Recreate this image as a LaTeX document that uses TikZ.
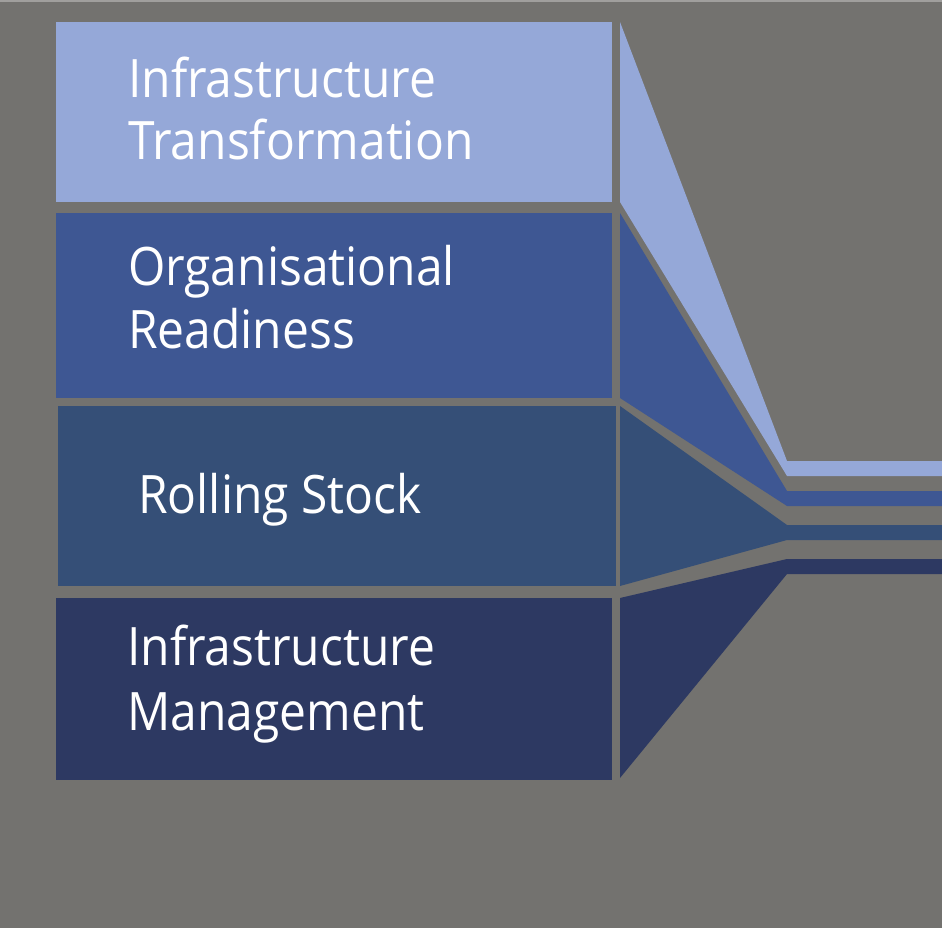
\documentclass[tikz,border=0pt]{standalone}
\usepackage{fontspec}
\setmainfont[FakeStretch=0.905]{Open Sans}
\definecolor{bg}{HTML}{73726F}
\definecolor{topline}{HTML}{A09F9D}
\definecolor{cA}{HTML}{95A8D8}
\definecolor{cB}{HTML}{3E5793}
\definecolor{cC}{HTML}{354F77}
\definecolor{cD}{HTML}{2D3962}
\tikzset{
  lbl/.style={text=white, inner sep=0pt, anchor=base west, font=\fontsize{53}{63}\selectfont}
}
\begin{document}
\begin{tikzpicture}[x=1pt,y=-1pt]
\useasboundingbox (0,0) rectangle (942,928);
\fill[bg] (0,0) rectangle (942,928);
\fill[topline] (0,0) rectangle (942,2);
% boxes
\fill[cA] (56,22) rectangle (612,202);
\fill[cB] (56,213) rectangle (612,398);
\fill[cC] (58,406) rectangle (616,586);
\fill[cD] (56,598) rectangle (612,780);
% funnel strips
\fill[cA] (620,22) -- (787,461) -- (942,461) -- (942,476) -- (787,476) -- (620,202) -- cycle;
\fill[cB] (620,213) -- (787,491) -- (942,491) -- (942,506) -- (787,506) -- (620,398) -- cycle;
\fill[cC] (620,406) -- (787,525) -- (942,525) -- (942,540) -- (787,540) -- (620,586) -- cycle;
\fill[cD] (620,598) -- (787,559) -- (942,559) -- (942,574) -- (787,574) -- (620,778) -- cycle;
% labels
\node[lbl] (t1a) at (128,98) {Infrastructure};
\node[lbl] (t1b) at (128,160) {Transformation};
\node[lbl] (t2a) at (128,285) {Organisational};
\node[lbl] (t2b) at (128,348) {Readiness};
\node[lbl] (t3) at (138,513) {Rolling Stock};
\node[lbl] (t4a) at (127,665) {Infrastructure};
\node[lbl] (t4b) at (127,730) {Management};
\end{tikzpicture}
\end{document}
